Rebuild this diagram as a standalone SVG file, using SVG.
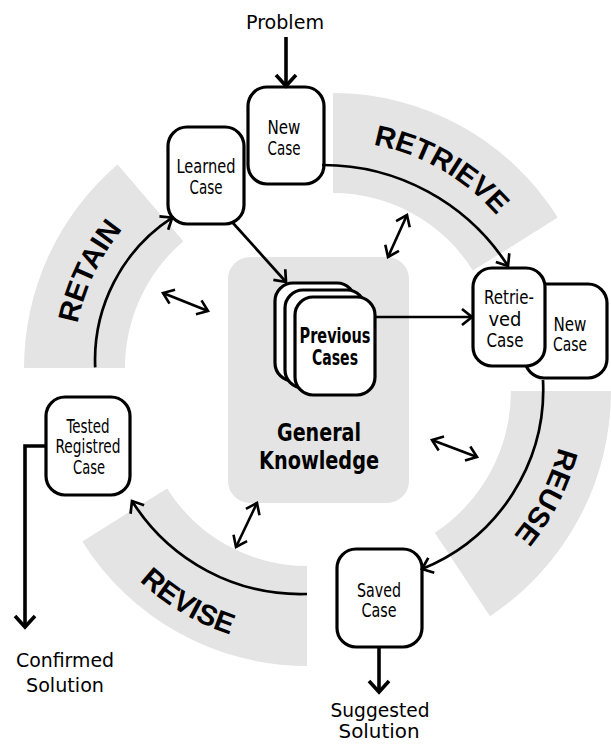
<svg xmlns="http://www.w3.org/2000/svg" width="611" height="746" viewBox="0 0 611 746">
<style>
.band{fill:#e4e4e4;stroke:none}
.node{fill:#fff;stroke:#000;stroke-width:3.2}
.arc{fill:none;stroke:#000;stroke-width:2.7}
.thick{fill:none;stroke:#000;stroke-width:3.6}
.dbl{fill:none;stroke:#000;stroke-width:2.6}
.t{font-family:"Liberation Sans Narrow","DejaVu Sans Condensed","Liberation Sans",sans-serif;font-size:19px;text-anchor:middle;fill:#000}
.tb{font-family:"Liberation Sans Narrow","DejaVu Sans Condensed","Liberation Sans",sans-serif;font-weight:bold;text-anchor:middle;fill:#000}
.lbl{font-family:"Liberation Sans",Arial,sans-serif;font-weight:bold;font-size:29px;text-anchor:middle;fill:#000}
</style>
<defs>
<marker id="ah" viewBox="-13 -10 15 20" markerWidth="15" markerHeight="20" refX="0" refY="0" orient="auto" markerUnits="userSpaceOnUse" overflow="visible"><path d="M-10,-8 L0,0 L-10,8" fill="none" stroke="#000" stroke-width="2.7"/></marker>
<marker id="ah2" viewBox="-13 -10 15 20" markerWidth="15" markerHeight="20" refX="0" refY="0" orient="auto-start-reverse" markerUnits="userSpaceOnUse" overflow="visible"><path d="M-10,-7.5 L0,0 L-10,7.5" fill="none" stroke="#000" stroke-width="2.6"/></marker>
<marker id="ahb" viewBox="-14 -12 16 24" markerWidth="16" markerHeight="24" refX="0" refY="0" orient="auto" markerUnits="userSpaceOnUse" overflow="visible"><path d="M-11,-10 L0,0 L-11,10" fill="none" stroke="#000" stroke-width="3.6"/></marker>
<path id="pRetrieve" d="M294.6,144.4 A217,217 0 0 1 536.7,283.1"/>
<path id="pRetain" d="M80,422.8 A219,219 0 0 1 201.2,168.7"/>
<path id="pReuse" d="M560.4,341.2 A225,225 0 0 1 428.2,598.4"/>
<path id="pRevise" d="M75,482.7 A246,246 0 0 0 347.2,643.7"/>
</defs>

<g id="bands">
<path id="band-retain" class="band" d="M24,368 A268,268 0 0 1 117.6,164.5 L183.3,241.2 A167,167 0 0 0 125,368 Z"/>
<path id="band-retrieve" class="band" d="M333,93 A265,265 0 0 1 557.7,217.6 L472.9,270.6 A165,165 0 0 0 333,193 Z"/>
<path id="band-reuse" class="band" d="M611,391 A270,270 0 0 1 490,616.2 L434.8,532.8 A170,170 0 0 0 511,391 Z"/>
<path id="band-revise" class="band" d="M307,666 A265,265 0 0 1 82.3,541.4 L167.1,488.4 A165,165 0 0 0 307,566 Z"/>
</g>

<g id="phase-labels">
<text class="lbl"><textPath href="#pRetrieve" startOffset="50%">RETRIEVE</textPath></text>
<text class="lbl"><textPath href="#pRetain" startOffset="50%">RETAIN</textPath></text>
<text class="lbl"><textPath href="#pReuse" startOffset="50%">REUSE</textPath></text>
<text class="lbl"><textPath href="#pRevise" startOffset="50%">REVISE</textPath></text>
</g>

<g id="general-knowledge">
<rect x="228" y="257" width="181" height="246" rx="22" class="band"/>
<text class="tb" font-size="24" x="319" y="441" textLength="84" lengthAdjust="spacingAndGlyphs">General</text>
<text class="tb" font-size="24" x="319" y="469" textLength="120" lengthAdjust="spacingAndGlyphs">Knowledge</text>
</g>

<g id="previous-cases">
<rect x="275" y="283" width="80" height="98" rx="18" class="node"/>
<rect x="285" y="290" width="80" height="98" rx="18" class="node"/>
<rect x="295" y="297" width="80" height="98" rx="18" class="node"/>
<text class="tb" font-size="21" x="335" y="343" textLength="71" lengthAdjust="spacingAndGlyphs">Previous</text>
<text class="tb" font-size="21" x="335" y="365" textLength="46" lengthAdjust="spacingAndGlyphs">Cases</text>
</g>

<g id="problem">
<text class="t" font-size="25" x="285" y="29" textLength="78" lengthAdjust="spacingAndGlyphs">Problem</text>
</g>

<g id="new-case">
<rect x="248" y="87" width="76" height="97" rx="19" class="node"/>
<text class="t" font-size="21" x="284" y="134" textLength="33" lengthAdjust="spacingAndGlyphs">New</text>
<text class="t" font-size="21" x="284" y="155" textLength="33" lengthAdjust="spacingAndGlyphs">Case</text>
</g>

<g id="learned-case">
<rect x="168" y="127" width="76" height="97" rx="19" class="node"/>
<text class="t" x="206" y="173" textLength="59" lengthAdjust="spacingAndGlyphs">Learned</text>
<text class="t" x="206" y="194" textLength="33" lengthAdjust="spacingAndGlyphs">Case</text>
</g>

<g id="new-case-2">
<rect x="525" y="284" width="82" height="94" rx="19" class="node"/>
<text class="t" font-size="21" x="570" y="331" textLength="33" lengthAdjust="spacingAndGlyphs">New</text>
<text class="t" font-size="21" x="570" y="351" textLength="34" lengthAdjust="spacingAndGlyphs">Case</text>
</g>

<g id="retrieved-case">
<rect x="473" y="268" width="72" height="98" rx="19" class="node"/>
<text class="t" x="509" y="304" textLength="50" lengthAdjust="spacingAndGlyphs">Retrie-</text>
<text class="t" x="505" y="326" textLength="33" lengthAdjust="spacingAndGlyphs">ved</text>
<text class="t" x="505" y="347" textLength="37" lengthAdjust="spacingAndGlyphs">Case</text>
</g>

<g id="saved-case">
<rect x="337" y="549" width="85" height="98" rx="19" class="node"/>
<text class="t" x="379" y="597" textLength="44" lengthAdjust="spacingAndGlyphs">Saved</text>
<text class="t" x="379" y="617" textLength="35" lengthAdjust="spacingAndGlyphs">Case</text>
</g>

<g id="tested-case">
<rect x="46" y="397" width="84" height="98" rx="19" class="node"/>
<text class="t" x="88" y="433" textLength="43" lengthAdjust="spacingAndGlyphs">Tested</text>
<text class="t" x="88" y="453" textLength="65" lengthAdjust="spacingAndGlyphs">Registred</text>
<text class="t" x="89" y="474" textLength="32" lengthAdjust="spacingAndGlyphs">Case</text>
</g>

<g id="suggested-solution">
<text class="t" font-size="25" x="380" y="717" textLength="99" lengthAdjust="spacingAndGlyphs">Suggested</text>
<text class="t" font-size="25" x="379" y="738" textLength="81" lengthAdjust="spacingAndGlyphs">Solution</text>
</g>

<g id="confirmed-solution">
<text class="t" font-size="25" x="65" y="667" textLength="98" lengthAdjust="spacingAndGlyphs">Confirmed</text>
<text class="t" font-size="25" x="65" y="692" textLength="78" lengthAdjust="spacingAndGlyphs">Solution</text>
</g>

<g id="connectors">
<path class="thick" d="M286,37 L286,86" marker-end="url(#ahb)"/>
<path class="thick" d="M379,647 L379,692" marker-end="url(#ahb)"/>
<path class="thick" d="M46,446 L25,446 L25,627" marker-end="url(#ahb)"/>
<path class="arc" d="M322,165 A220,220 0 0 1 508,266" marker-end="url(#ah)"/>
<path class="arc" d="M543,380 A193.7,193.7 0 0 1 422,569" marker-end="url(#ah)"/>
<path class="arc" d="M307,594 A199,199 0 0 1 132,501" marker-end="url(#ah)"/>
<path class="arc" d="M95.2,367.4 A170,170 0 0 1 172.2,217.6" marker-end="url(#ah)"/>
<path class="arc" d="M233,223 L286,282" marker-end="url(#ah)"/>
<path class="arc" d="M375,317 L472,317" marker-end="url(#ah)"/>
<path class="dbl" d="M388,257 L407,215" marker-start="url(#ah2)" marker-end="url(#ah2)"/>
<path class="dbl" d="M163,293 L208,311" marker-start="url(#ah2)" marker-end="url(#ah2)"/>
<path class="dbl" d="M432,440 L477,457" marker-start="url(#ah2)" marker-end="url(#ah2)"/>
<path class="dbl" d="M236,547 L257,503" marker-start="url(#ah2)" marker-end="url(#ah2)"/>
</g>
</svg>
